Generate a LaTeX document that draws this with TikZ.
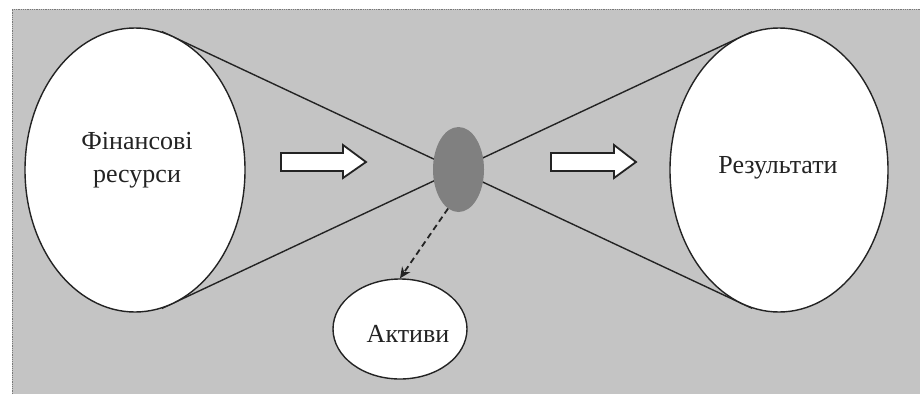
\documentclass[tikz,border=0pt]{standalone}
\usepackage{fontspec}
\setmainfont{Liberation Serif}
\usetikzlibrary{shapes.geometric,arrows.meta}
\definecolor{bggray}{RGB}{196,196,196}
\definecolor{hubgray}{RGB}{128,128,128}
\definecolor{edgegray}{RGB}{120,120,120}
\definecolor{inkgray}{RGB}{35,35,35}
\pgfdeclarelayer{bg}
\pgfdeclarelayer{lines}
\pgfsetlayers{bg,lines,main}
\begin{document}
\begin{tikzpicture}[x=1pt,y=-1pt,
  bigell/.style={ellipse, draw=inkgray, fill=white, line width=1.4pt, inner sep=0pt},
  hub/.style={ellipse, fill=hubgray, inner sep=0pt},
  lbl/.style={font=\fontsize{26}{33}\selectfont, text=inkgray, align=center, inner sep=0pt},
  blockarrow/.style={draw=inkgray, fill=white, line width=1.8pt, line join=miter},
  cone/.style={draw=inkgray, line width=1.4pt},
  dashlink/.style={draw=inkgray, dash pattern=on 6pt off 4pt, line width=1.8pt, -{Stealth[length=11pt,width=10pt]}}]
\useasboundingbox (0,0) rectangle (920,394);
\begin{pgfonlayer}{bg}
  \fill[bggray] (12,9) rectangle (920,394);
  \draw[edgegray, densely dotted, line width=0.8pt] (12,394) -- (12,9) -- (920,9);
\end{pgfonlayer}
% ellipses
\node[bigell, minimum width=220pt, minimum height=284pt] (L) at (135,170) {};
\node[bigell, minimum width=218pt, minimum height=284pt] (R) at (779,170) {};
\node[hub, minimum width=51pt, minimum height=85pt] (S) at (458.5,169.5) {};
\node[bigell, minimum width=134pt, minimum height=100pt] (A) at (400,329) {};
% labels
\node[lbl] (tL) at (137,160) {Фінансові\\ресурси};
\node[lbl] (tR) at (778,168) {Результати};
\node[lbl] (tA) at (408,334) {Активи};
% cone lines
\begin{pgfonlayer}{lines}
  \draw[cone] (L.79) -- (R.259);
  \draw[cone] (L.281) -- (R.101);
\end{pgfonlayer}
% dashed link
\draw[dashlink] (S.255) -- (A.north);
% block arrows
\draw[blockarrow] (281,153) -- (343,153) -- (343,145) -- (366,162) -- (343,178) -- (343,171) -- (281,171) -- cycle;
\draw[blockarrow] (551,153) -- (614,153) -- (614,145) -- (636,162) -- (614,178) -- (614,171) -- (551,171) -- cycle;
\end{tikzpicture}
\end{document}
